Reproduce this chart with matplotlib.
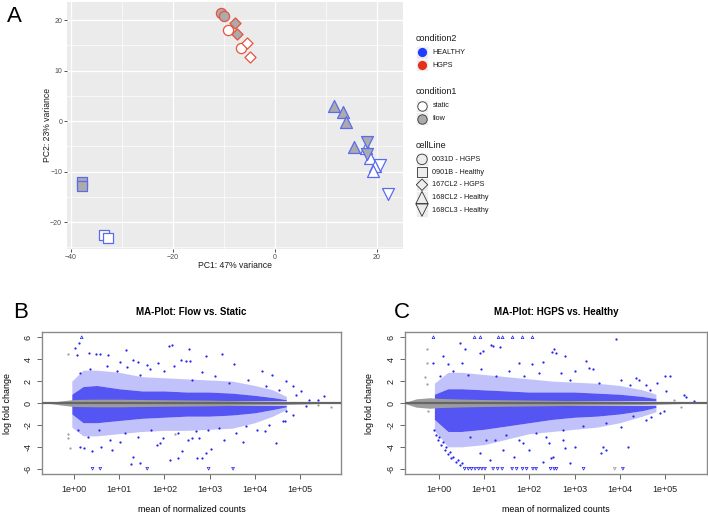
import numpy as np
import matplotlib.pyplot as plt

plt.rcParams['font.family'] = ['Liberation Sans', 'DejaVu Sans']

#%% PCA data (panel A)
pc1 = [-10.65, -10.1, -9.2, -6.7,
       -37.9, -37.9, -33.5, -32.8,
       -7.8, -7.5, -5.55, -5.0,
       11.6, 13.4, 13.9, 15.55, 17.8, 18.6, 19.6, 19.3,
       18.0, 18.0, 20.6, 22.2]
pc2 = [21.4, 20.8, 18.0, 14.5,
       -12.1, -12.8, -22.6, -23.2,
       19.5, 17.2, 15.45, 12.7,
       2.95, 1.8, -0.1, -5.2, -5.3, -7.2, -8.9, -9.9,
       -4.1, -6.5, -8.7, -14.4]
condition2 = ['HGPS'] * 4 + ['HEALTHY'] * 4 + ['HGPS'] * 4 + ['HEALTHY'] * 12
condition1 = (['flow', 'flow', 'static', 'static'] * 3
              + ['flow'] * 4 + ['static'] * 4
              + ['flow', 'flow', 'static', 'static'])
cell_line = (['0031D - HGPS'] * 4 + ['0901B - Healthy'] * 4 + ['167CL2 - HGPS'] * 4
             + ['168CL2 - Healthy'] * 8 + ['168CL3 - Healthy'] * 4)
cell_levels = ['0031D - HGPS', '0901B - Healthy', '167CL2 - HGPS',
               '168CL2 - Healthy', '168CL3 - Healthy']

#%% MA data, panel B (log10 of mean counts, log fold change)
b_gray_lx = [-0.55, -0.3, 0.0, 0.5, 1.0, 1.5, 2.0, 2.5, 3.0, 3.5, 4.0, 4.5, 5.0, 5.5]
b_gray_hw = [0.03, 0.18, 0.32, 0.35, 0.35, 0.32, 0.3, 0.28, 0.26, 0.22, 0.18, 0.15, 0.1, 0.04]
b_blue_lx = [-0.05, 0.2, 0.5, 1.0, 1.5, 2.0, 2.5, 3.0, 3.5, 4.0, 4.4, 4.7]
b_up_dense = [0.8, 1.5, 1.6, 1.3, 1.1, 1.1, 1.0, 1.0, 0.9, 0.7, 0.5, 0.3]
b_up_sparse = [2.0, 3.0, 3.0, 2.8, 2.4, 2.3, 2.2, 2.1, 2.0, 1.6, 1.2, 0.6]
b_lo_dense = [-1.0, -1.8, -1.8, -1.6, -1.4, -1.3, -1.2, -1.2, -1.1, -0.9, -0.6, -0.35]
b_lo_sparse = [-2.2, -3.0, -3.0, -2.8, -2.6, -2.5, -2.5, -2.4, -2.3, -1.8, -1.2, -0.6]
b_blue_pts = [(0.11, 5.45), (0.02, 5.05), (0.06, 4.4), (0.32, 4.6), (0.49, 4.5), (0.58, 4.5),
              (0.76, 4.34), (1.15, 4.83), (1.30, 3.9), (1.41, 3.76), (1.02, 3.7), (2.10, 5.2),
              (2.17, 5.28), (2.54, 4.95), (1.62, 3.5), (1.86, 3.67), (2.36, 3.97), (2.56, 3.8),
              (2.91, 4.27), (3.27, 4.5), (3.54, 3.6), (2.84, 2.8), (4.16, 2.9), (4.38, 2.6),
              (4.69, 2.0), (4.84, 1.52), (5.02, 1.07), (5.20, 0.3), (5.54, 0.6), (5.39, 0.3),
              (5.13, -0.3), (4.69, -0.77), (4.67, -1.6), (4.84, -1.07), (4.47, -3.67),
              (3.74, -3.52), (3.58, -2.75), (4.06, -2.45), (4.23, -2.6), (2.97, -2.45),
              (3.04, -4.19), (2.93, -4.59), (2.84, -5.05), (2.73, -5.05), (2.62, -3.2),
              (2.76, -3.2), (3.32, -3.37), (0.13, -3.98), (0.23, -4.13), (0.39, -4.35),
              (0.59, -4.04), (0.84, -4.28), (1.02, -3.52), (1.26, -5.6), (1.47, -5.45),
              (1.30, -4.9), (1.84, -3.83), (1.91, -3.67), (2.12, -5.2), (2.30, -5.05),
              (2.39, -4.37),
              (0.13, 2.75), (0.35, 3.06), (0.72, 3.36), (0.94, 2.9), (1.17, 3.3), (1.46, 2.6),
              (1.69, 3.1), (1.99, 2.9), (2.21, 3.36), (2.47, 3.8), (2.62, 2.14), (3.13, 2.45),
              (3.43, 1.84), (3.84, 2.14), (4.24, 1.53), (4.54, 1.22), (4.91, 0.76),
              (0.08, -2.45), (0.30, -3.06), (0.56, -2.45), (0.79, -3.37), (1.12, -2.75),
              (1.41, -3.06), (1.71, -2.45), (1.97, -3.2), (2.30, -2.75), (2.53, -3.37),
              (2.69, -2.6), (3.21, -2.3), (3.80, -2.14), (4.32, -2.0), (4.62, -1.68)]
b_gray_pts = [(-0.13, 4.43), (-0.10, -4.13), (-0.13, -3.2), (-0.13, -2.8),
              (5.69, -0.37), (5.40, -0.2), (2.24, -2.8)]
b_clip_top = [0.17]
b_clip_bot = [0.41, 0.58, 1.62, 2.98, 3.52]

#%% MA data, panel C
c_gray_lx = [-0.75, -0.5, -0.2, 0.0, 0.5, 1.0, 2.0, 3.0, 4.0, 4.6, 5.0, 5.4]
c_gray_hw = [0.05, 0.38, 0.48, 0.42, 0.36, 0.32, 0.27, 0.22, 0.17, 0.13, 0.09, 0.04]
c_blue_lx = [-0.1, 0.2, 0.5, 1.0, 1.5, 2.0, 2.5, 3.0, 3.5, 4.0, 4.5, 4.8]
c_up_dense = [0.8, 1.3, 1.3, 1.2, 1.1, 1.0, 1.0, 1.0, 0.9, 0.8, 0.6, 0.4]
c_up_sparse = [1.8, 2.8, 2.8, 2.6, 2.4, 2.2, 2.0, 1.9, 1.8, 1.6, 1.2, 0.8]
c_lo_dense = [-1.5, -2.6, -2.6, -2.4, -2.1, -1.8, -1.5, -1.3, -1.2, -1.0, -0.7, -0.4]
c_lo_sparse = [-2.5, -4.0, -4.0, -3.8, -3.3, -2.8, -2.6, -2.4, -2.2, -1.8, -1.2, -0.8]
c_blue_pts = [(0.46, 5.5), (0.57, 4.95), (0.91, 4.59), (0.97, 4.73), (1.16, 5.28), (1.20, 5.2),
              (1.36, 5.1), (0.09, 4.28), (-0.13, 3.67), (0.20, 3.58), (0.51, 3.67), (1.78, 3.67),
              (2.06, 3.6), (2.30, 3.76), (3.92, 5.8), (2.54, 4.93), (2.51, 4.64), (2.58, 4.52),
              (2.78, 4.28), (3.25, 3.82), (3.32, 3.15), (3.41, 3.06), (2.71, 2.75), (3.00, 2.9),
              (4.02, 2.14), (4.35, 2.29), (4.42, 2.07), (4.82, 1.83), (5.01, 2.44), (5.11, 2.44),
              (4.57, 1.68), (5.03, 1.07), (5.42, 0.7), (5.47, 0.52), (5.65, 0.21),
              (4.88, -0.92), (4.97, -0.7), (4.70, -1.28), (4.03, -2.2), (4.18, -4.04),
              (3.63, -4.04), (3.69, -4.28), (3.59, -4.59), (2.80, -4.07), (3.02, -3.98),
              (2.74, -3.37), (2.52, -4.95), (2.47, -5.05), (2.89, -5.5),
              (-0.10, -2.45), (-0.06, -2.9), (-0.02, -3.37), (0.05, -3.83), (0.13, -4.28),
              (0.20, -4.65), (0.27, -5.05), (0.38, -5.36), (0.47, -5.66),
              (0.00, -3.1), (0.08, -3.6), (0.16, -4.0), (0.24, -4.5), (0.32, -4.9),
              (0.42, -5.2), (0.52, -5.5),
              (0.90, -4.59), (1.12, -5.2), (1.41, -4.28), (1.67, -4.9), (2.00, -4.28),
              (2.30, -5.36), (2.44, -3.67), (1.23, -3.37), (1.78, -3.37),
              (0.02, 2.44), (0.31, 2.9), (0.64, 2.6), (0.93, 3.06), (1.26, 2.44), (1.56, 2.9),
              (1.89, 2.44), (2.22, 2.75), (2.89, 2.14), (3.55, 1.83), (4.22, 1.68), (4.66, 1.22),
              (0.68, -3.06), (1.04, -3.37), (1.49, -2.9), (1.85, -3.67), (2.15, -2.75),
              (2.37, -3.06), (2.74, -2.45), (3.19, -2.14), (3.70, -1.83), (4.29, -1.22),
              (4.58, -1.53)]
c_gray_pts = [(-0.26, 4.95), (-0.26, 3.67), (-0.24, -0.77), (-0.26, 1.77), (-0.30, 2.4),
              (5.36, -0.37), (5.21, 0.3)]
c_clip_top = [-0.12, 0.79, 0.92, 1.32, 1.41, 1.63, 1.85, 2.07]
c_clip_bot = [0.57, 0.65, 0.72, 0.80, 0.88, 0.95, 1.02, 1.20, 1.30, 1.40, 1.62, 1.72,
              1.85, 1.94, 2.08, 2.15, 2.47, 2.55, 2.60, 3.20, 4.07]
c_clip_bot_gray = [3.89]

#%% styles
shape_of = {'0031D - HGPS': 'o', '0901B - Healthy': 's', '167CL2 - HGPS': 'D',
            '168CL2 - Healthy': '^', '168CL3 - Healthy': 'v'}
size_of = {'o': 54, 's': 48, 'D': 32, '^': 74, 'v': 74}
edge_of = {'HEALTHY': '#5A6BEE', 'HGPS': '#E5543F'}
fill_of = {'static': 'white', 'flow': '#ABABAB'}
BLUE = '#2525F0'
GRAY = '#9C9C9C'

W, H = 708, 516
fig = plt.figure(figsize=(W / 100, H / 100), dpi=100)

def box(x0, y0, x1, y1):
    return [x0 / W, 1 - y1 / H, (x1 - x0) / W, (y1 - y0) / H]

#%% panel A
ax = fig.add_axes(box(67, 2, 403, 249))
ax.set_facecolor('#EBEBEB')
for s in ax.spines.values():
    s.set_visible(False)
ax.set_xlim(-40.8, 25.1)
ax.set_ylim(-25.3, 23.6)
ax.set_xticks([-40, -20, 0, 20])
ax.set_yticks([-20, -10, 0, 10, 20])
ax.set_xticks([-30, -10, 10], minor=True)
ax.set_yticks([-25, -15, -5, 5, 15], minor=True)
ax.grid(which='major', color='white', lw=0.9)
ax.grid(which='minor', color='white', lw=0.45)
ax.set_axisbelow(True)
ax.tick_params(which='major', length=2, width=0.6, color='#333333', labelsize=5,
               labelcolor='#4D4D4D', pad=1.5)
ax.tick_params(which='minor', length=0)
for i in range(len(pc1)):
    ax.scatter(pc1[i], pc2[i], marker=shape_of[cell_line[i]], s=size_of[shape_of[cell_line[i]]],
               facecolor=fill_of[condition1[i]], edgecolor=edge_of[condition2[i]],
               linewidth=0.9, zorder=3)

#%% panels B, C
def ma_panel(rect, xlim, gray_lx, gray_hw, blue_lx, up_d, up_s, lo_d, lo_s,
             blue_pts, gray_pts, clip_top, clip_bot, clip_bot_gray):
    a = fig.add_axes(rect)
    gx = 10 ** np.array(gray_lx)
    bx = 10 ** np.array(blue_lx)
    hw = np.array(gray_hw)
    # sparse outer cloud, then dense inner cloud, then the gray band of non-significant genes
    a.fill_between(bx, up_d, up_s, color=BLUE, lw=0, alpha=0.28)
    a.fill_between(bx, lo_s, lo_d, color=BLUE, lw=0, alpha=0.28)
    a.fill_between(bx, 0.2, up_d, color=BLUE, lw=0, alpha=0.78)
    a.fill_between(bx, lo_d, -0.2, color=BLUE, lw=0, alpha=0.78)
    a.fill_between(gx, -hw, hw, color=GRAY, lw=0)
    a.axhline(0, color='#666666', lw=1.6, zorder=4)
    bp = np.array(blue_pts)
    a.scatter(10 ** bp[:, 0], bp[:, 1], s=2.6, color=BLUE, lw=0, zorder=3)
    gp = np.array(gray_pts)
    a.scatter(10 ** gp[:, 0], gp[:, 1], s=2.6, color=GRAY, lw=0, zorder=3)
    a.scatter(10 ** np.array(clip_top), [6] * len(clip_top), marker='^', s=4,
              facecolor='none', edgecolor=BLUE, lw=0.5, zorder=3)
    a.scatter(10 ** np.array(clip_bot), [-6] * len(clip_bot), marker='v', s=4,
              facecolor='none', edgecolor=BLUE, lw=0.5, zorder=3)
    if clip_bot_gray:
        a.scatter(10 ** np.array(clip_bot_gray), [-6] * len(clip_bot_gray), marker='v', s=4,
                  facecolor='none', edgecolor=GRAY, lw=0.5, zorder=3)
    a.set_xscale('log')
    a.set_xlim(10 ** xlim[0], 10 ** xlim[1])
    a.set_ylim(-6.48, 6.48)
    a.set_xticks([10.0 ** k for k in range(6)])
    a.set_xticklabels(['1e+%02d' % k for k in range(6)])
    a.minorticks_off()
    a.set_yticks([-6, -4, -2, 0, 2, 4, 6])
    a.set_yticklabels(['-6', '-4', '-2', '0', '2', '4', '6'], rotation=90, va='center')
    for s in a.spines.values():
        s.set_color('#8A8A8A')
        s.set_linewidth(1.0)
    a.tick_params(axis='x', length=3.5, width=0.7, color='#666666', labelsize=6.5,
                  labelcolor='#222222', pad=4.5)
    a.tick_params(axis='y', length=3.5, width=0.7, color='#666666', labelsize=6.5,
                  labelcolor='#222222', pad=3)
    return a

ma_panel(box(42, 332, 341, 474), (-0.71, 5.91), b_gray_lx, b_gray_hw, b_blue_lx,
         b_up_dense, b_up_sparse, b_lo_dense, b_lo_sparse,
         b_blue_pts, b_gray_pts, b_clip_top, b_clip_bot, [])
ma_panel(box(405, 332, 707, 474), (-0.75, 5.93), c_gray_lx, c_gray_hw, c_blue_lx,
         c_up_dense, c_up_sparse, c_lo_dense, c_lo_sparse,
         c_blue_pts, c_gray_pts, c_clip_top, c_clip_bot, c_clip_bot_gray)

#%% overlay: panel letters, labels, legend (pixel coordinates)
ov = fig.add_axes([0, 0, 1, 1], facecolor='none')
ov.set_xlim(0, W)
ov.set_ylim(H, 0)
ov.axis('off')

ov.text(14, 16, 'A', fontsize=16, ha='center', va='center')
ov.text(21, 312, 'B', fontsize=16, ha='center', va='center')
ov.text(402, 313, 'C', fontsize=16, ha='center', va='center')
ov.text(235, 265, 'PC1: 47% variance', fontsize=6.2, ha='center', va='center', color='#1A1A1A')
ov.text(47, 125, 'PC2: 23% variance', fontsize=6.2, ha='center', va='center', rotation=90,
        color='#1A1A1A')
for cx, title in [(191.5, 'MA-Plot: Flow vs. Static'), (556, 'MA-Plot: HGPS vs. Healthy')]:
    ov.text(cx, 312, title, fontsize=7, fontweight='bold', ha='center', va='center')
    ov.text(cx, 509, 'mean of normalized counts', fontsize=6.4, ha='center', va='center')
for lx in [8, 370]:
    ov.text(lx, 403, 'log fold change', fontsize=6.4, ha='center', va='center', rotation=90)

# legend
KX, KW, KH, TX = 416, 12, 12.7, 432.5
def legend_block(y_title, title, labels, draw_key):
    ov.text(KX, y_title, title, fontsize=6.5, ha='left', va='center', color='#1A1A1A')
    y0 = y_title + 7.5
    for j, lab in enumerate(labels):
        yc = y0 + KH * (j + 0.5)
        ov.add_patch(plt.Rectangle((KX, yc - KH / 2), KW, KH, facecolor='#EDEDED',
                                   edgecolor='white', lw=0.5))
        draw_key(j, KX + KW / 2, yc)
        ov.text(TX, yc, lab, fontsize=5.2, ha='left', va='center', color='#1A1A1A')

legend_block(38.5, 'condition2', ['HEALTHY', 'HGPS'],
             lambda j, x, y: ov.scatter(x, y, s=44, marker='o',
                                        color=['#1F3DFF', '#E5301A'][j], lw=0))
legend_block(92, 'condition1', ['static', 'flow'],
             lambda j, x, y: ov.scatter(x, y, s=46, marker='o', facecolor=['white', '#ABABAB'][j],
                                        edgecolor='#333333', lw=0.6))
legend_block(145.5, 'cellLine', cell_levels,
             lambda j, x, y: ov.scatter(x, y, s=size_of[shape_of[cell_levels[j]]] * 1.05,
                                        marker=shape_of[cell_levels[j]], facecolor='none',
                                        edgecolor='#333333', lw=0.6))

fig.savefig('out.png', dpi=100)
